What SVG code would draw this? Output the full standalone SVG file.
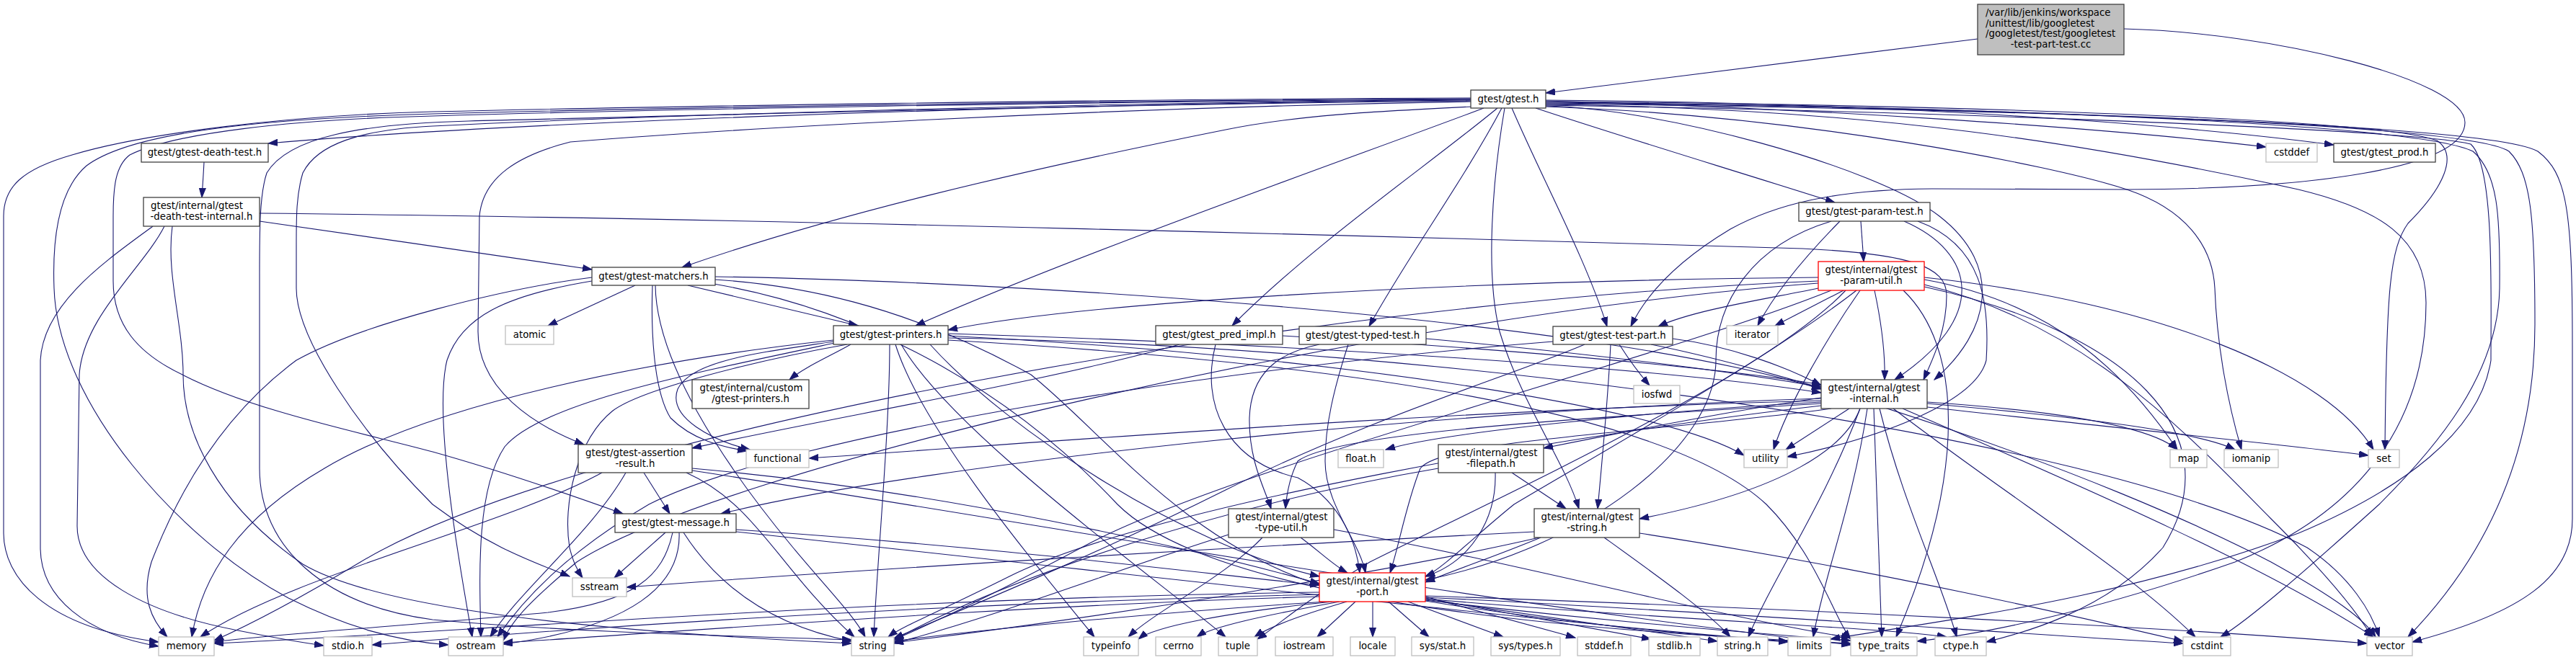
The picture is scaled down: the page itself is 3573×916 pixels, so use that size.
<svg xmlns="http://www.w3.org/2000/svg" width="3573" height="916" viewBox="0 0 3573 916">
<style>
.e{fill:none;stroke:#191970;stroke-width:1.1;marker-end:url(#a)}
.n{fill:#fff;stroke:#404040;stroke-width:1.3}
.l{fill:#fff;stroke:#bfbfbf;stroke-width:1.3}
.r{fill:#fff;stroke:#ff0000;stroke-width:1.3}
.root{fill:#bfbfbf;stroke:#404040;stroke-width:1.3}
text{font-family:"DejaVu Sans","Liberation Sans",sans-serif;font-size:13.3px;fill:#000;text-anchor:middle}
text.s{text-anchor:start}
</style>
<defs>
<marker id="a" markerWidth="14" markerHeight="10" refX="13" refY="5" orient="auto" markerUnits="userSpaceOnUse"><path d="M0,0.5 L13,5 L0,9.5 z" fill="#191970" stroke="#191970" stroke-width="1"/></marker>
</defs>
<rect width="3573" height="916" fill="#fff"/>
<g id="edges">
<path class="e" d="M2743,54 L2144,129"/>
<path class="e" d="M2946,40 C3150,45 3419,110 3419,170 C3419,235 3200,262 2950,263 L2680,262 C2540,263 2460,285 2400,318 C2330,360 2285,405 2262,453"/>
<path class="e" d="M2040,139 C1400,145 700,170 372,199"/>
<path class="e" d="M2042,148 C1900,155 1800,160 1700,180 C1400,240 1150,300 946,371"/>
<path class="e" d="M2058,150 C1900,210 1500,350 1270,452"/>
<path class="e" d="M2077,150 C1980,230 1820,340 1709,452"/>
<path class="e" d="M2083,150 C2030,250 1950,360 1899,453"/>
<path class="e" d="M2087,150 C2070,250 2060,380 2080,460 C2110,560 2170,640 2190,706"/>
<path class="e" d="M2097,150 C2140,250 2200,360 2229,453"/>
<path class="e" d="M2130,150 C2250,190 2400,235 2545,281"/>
<path class="e" d="M2144,147 C2300,150 2600,230 2690,300 C2780,370 2760,460 2683,527"/>
<path class="e" d="M2144,140 C2500,150 2900,175 3143,204"/>
<path class="e" d="M2144,139 C2600,142 3000,170 3237,201"/>
<path class="e" d="M2144,141 C2700,145 3300,165 3380,195 C3410,215 3390,260 3340,310 C3315,345 3310,400 3308,624"/>
<path class="e" d="M2144,142 C2700,147 3350,170 3430,210 C3465,240 3468,300 3467,400 C3465,520 3380,620 3300,700 C3200,790 3120,860 3080,884"/>
<path class="e" d="M2144,143 C2700,148 3420,170 3480,210 C3510,240 3516,300 3516,450 C3516,600 3470,750 3340,884"/>
<path class="e" d="M2144,144 C2700,150 3450,170 3520,210 C3560,240 3568,290 3568,480 L3568,720 C3568,800 3500,850 3346,891"/>
<path class="e" d="M2144,145 C2600,150 2900,200 3188,263 C3300,290 3365,330 3365,420 C3365,560 3300,700 3100,780 C2900,850 2750,880 2659,890"/>
<path class="e" d="M2144,146 C2700,155 3350,180 3427,200 C3460,230 3455,400 3455,500 C3440,600 3330,680 3188,740 C2950,830 2700,860 2539,887"/>
<path class="e" d="M2144,148 C2500,160 2850,230 2950,263 C3030,290 3069,340 3072,400 C3075,480 3090,560 3109,624"/>
<path class="e" d="M2040,136 C1500,138 900,148 600,155 C400,160 200,185 100,215 C30,235 5,260 5,300 L5,740 C5,800 60,870 220,891"/>
<path class="e" d="M2040,137 C1500,140 900,150 600,158 C350,165 180,185 120,230 C85,260 72,320 75,400 C80,560 250,750 400,830 C480,870 550,890 622,895"/>
<path class="e" d="M2040,138 C1500,141 900,152 600,161 C400,166 240,185 180,215 C160,230 157,260 157,300 L157,390 C157,450 190,490 253,520 C350,570 500,600 600,627 C700,655 800,690 864,713"/>
<path class="e" d="M2040,138 C1500,143 900,160 600,175 C500,180 440,200 420,240 C411,270 411,300 411,340 L411,400 C411,470 500,600 600,700 C680,760 740,780 790,800"/>
<path class="e" d="M2040,140 C1500,145 900,162 650,168 C500,172 400,190 370,240 C360,270 360,320 360,380 L360,650 C360,760 450,840 600,860 C800,878 1000,882 1181,888"/>
<path class="e" d="M2040,141 C1500,150 1000,180 791,197 C720,215 670,245 665,300 L663,460 C663,540 740,590 810,617"/>
<path class="e" d="M283,225 C282,245 281,258 280,274"/>
<path class="e" d="M360,296 C1000,302 2000,330 2500,345 C2650,352 2700,370 2700,410 C2700,460 2680,500 2668,527"/>
<path class="e" d="M360,307 C500,328 700,355 821,374"/>
<path class="e" d="M212,314 C150,360 60,420 56,500 L56,760 C56,830 120,880 220,897"/>
<path class="e" d="M228,314 C200,370 115,440 110,520 L107,730 C107,800 200,850 330,875 C380,885 420,892 449,896"/>
<path class="e" d="M239,314 C230,380 254,450 254,520 C254,600 300,700 420,783 C500,830 700,870 1181,893"/>
<path class="e" d="M881,396 L760,452"/>
<path class="e" d="M954,396 L1190,452"/>
<path class="e" d="M905,396 C903,450 905,540 930,580 C960,610 1000,620 1036,626"/>
<path class="e" d="M909,396 C910,500 1000,640 1100,760 C1150,820 1185,855 1200,884"/>
<path class="e" d="M821,385 C700,400 500,450 411,500 C330,560 260,650 210,780 C195,830 210,860 232,884"/>
<path class="e" d="M821,390 C700,410 640,440 620,500 C600,580 640,800 655,884"/>
<path class="e" d="M992,384 C1400,390 2200,440 2526,540"/>
<path class="e" d="M992,388 C1100,395 1250,420 1430,520 C1530,600 1640,750 1830,812"/>
<path class="e" d="M990,394 C1200,430 1400,540 1550,700 C1700,850 2300,880 2567,893"/>
<path class="e" d="M1180,478 C1150,495 1115,510 1095,527"/>
<path class="e" d="M1156,474 C1050,490 960,500 940,540 C925,580 990,612 1040,624"/>
<path class="e" d="M1175,478 C1050,500 890,540 850,570 C800,610 780,700 790,760 C795,780 800,790 808,802"/>
<path class="e" d="M1156,472 C900,500 600,560 450,650 C330,720 280,800 266,884"/>
<path class="e" d="M1158,476 C950,520 750,560 700,620 C660,680 665,800 667,884"/>
<path class="e" d="M1234,478 C1234,600 1215,800 1212,884"/>
<path class="e" d="M1242,478 C1280,600 1450,800 1518,884"/>
<path class="e" d="M1250,478 C1320,600 1600,800 1700,884"/>
<path class="e" d="M1315,472 C1800,500 2300,560 2450,700 C2520,770 2545,860 2567,887"/>
<path class="e" d="M1315,466 C1800,490 2300,560 2419,632"/>
<path class="e" d="M1315,469 C2000,480 2900,600 3200,760 C3260,800 3290,850 3300,884"/>
<path class="e" d="M1315,463 C1800,478 2300,510 2526,545"/>
<path class="e" d="M1290,478 C1400,600 1650,760 1830,800"/>
<path class="e" d="M835,656 C700,730 400,800 278,884"/>
<path class="e" d="M868,656 C820,740 720,820 680,884"/>
<path class="e" d="M893,656 L929,713"/>
<path class="e" d="M952,656 C1050,700 1080,790 1185,884"/>
<path class="e" d="M960,650 C1300,680 1650,760 1830,810"/>
<path class="e" d="M960,653 C1400,720 2000,830 2567,895"/>
<path class="e" d="M923,739 L852,802"/>
<path class="e" d="M933,739 C920,800 880,835 760,850 C550,870 380,880 297,891"/>
<path class="e" d="M942,739 C945,810 880,870 698,894"/>
<path class="e" d="M948,739 C1000,820 1080,870 1181,890"/>
<path class="e" d="M1021,735 C1400,760 1700,800 1830,812"/>
<path class="e" d="M1021,738 C1600,800 2200,870 2480,890"/>
<path class="e" d="M2526,558 C2300,570 2000,600 1922,624"/>
<path class="e" d="M2526,556 C2000,570 1500,610 1122,636"/>
<path class="e" d="M2526,553 C2000,570 1300,640 1000,713"/>
<path class="e" d="M2526,552 C2400,570 2250,600 2141,622"/>
<path class="e" d="M2580,567 C2560,620 2480,680 2274,720"/>
<path class="e" d="M2526,560 C2200,580 1850,600 1800,640 C1790,660 1785,680 1783,706"/>
<path class="e" d="M2540,567 C2300,600 2000,610 1970,650 C1950,700 1940,760 1928,795"/>
<path class="e" d="M2526,563 C2200,600 1600,700 1400,800 C1300,850 1250,870 1232,884"/>
<path class="e" d="M2565,567 L2477,624"/>
<path class="e" d="M2580,567 C2530,700 2460,800 2425,884"/>
<path class="e" d="M2590,567 C2570,700 2530,800 2515,884"/>
<path class="e" d="M2599,567 C2603,700 2608,800 2610,884"/>
<path class="e" d="M2607,567 C2640,700 2690,800 2714,884"/>
<path class="e" d="M2626,567 C2800,700 2950,790 3045,884"/>
<path class="e" d="M2639,567 C2900,680 3150,790 3292,884"/>
<path class="e" d="M2673,558 C2850,570 2980,590 3020,624"/>
<path class="e" d="M2673,560 C2900,580 3050,600 3100,624"/>
<path class="e" d="M2673,565 C2900,590 3150,615 3285,632"/>
<path class="e" d="M2581,307 L2585,363"/>
<path class="e" d="M2552,307 C2500,360 2460,410 2438,452"/>
<path class="e" d="M2641,307 C2740,350 2760,440 2628,527"/>
<path class="e" d="M2660,307 C2750,340 2760,420 2755,500 C2740,560 2600,610 2479,634"/>
<path class="e" d="M2540,307 C2430,340 2380,420 2380,500 C2380,620 2200,760 1977,805"/>
<path class="e" d="M2557,403 L2462,452"/>
<path class="e" d="M2580,403 C2540,460 2480,560 2460,624"/>
<path class="e" d="M2600,403 C2610,450 2615,490 2614,527"/>
<path class="e" d="M2522,385 C2000,390 1500,420 1315,458"/>
<path class="e" d="M2522,400 C2450,415 2350,430 2300,453"/>
<path class="e" d="M2522,390 C1800,420 800,600 500,780 C400,840 340,870 297,889"/>
<path class="e" d="M2522,393 C1900,440 1000,650 800,780 C740,830 710,860 698,889"/>
<path class="e" d="M2540,403 C2300,500 1700,650 1500,760 C1350,840 1280,870 1240,888"/>
<path class="e" d="M2560,403 C2450,520 2100,680 1900,780 C1800,840 1770,870 1744,887"/>
<path class="e" d="M2575,403 C2450,500 2200,640 2100,700 C2050,740 2000,790 1977,800"/>
<path class="e" d="M2669,388 C2850,420 2950,520 3020,624"/>
<path class="e" d="M2669,385 C3000,420 3230,520 3292,624"/>
<path class="e" d="M2669,395 C2900,450 3050,620 3150,720 C3230,800 3270,850 3290,884"/>
<path class="e" d="M2640,403 C2720,480 2730,650 2630,884"/>
<path class="e" d="M2669,398 C2950,460 3100,600 3000,760 C2920,850 2800,880 2755,891"/>
<path class="e" d="M2320,470 C2400,480 2480,510 2526,535"/>
<path class="e" d="M2234,478 C2230,560 2222,640 2216,706"/>
<path class="e" d="M2246,478 C2260,500 2275,520 2288,535"/>
<path class="e" d="M2198,478 C2100,520 1900,580 1700,680 C1500,780 1300,860 1240,886"/>
<path class="e" d="M2154,474 C1700,510 1100,600 900,700 C780,770 720,840 690,884"/>
<path class="e" d="M2290,478 C2500,520 2900,650 3150,780 C3240,830 3280,860 3295,884"/>
<path class="e" d="M1870,478 C1850,540 1838,590 1838,640 C1838,700 1885,750 1894,795"/>
<path class="e" d="M1830,478 C1770,490 1735,520 1733,580 C1732,640 1755,680 1763,706"/>
<path class="e" d="M1978,470 C2200,490 2400,515 2526,537"/>
<path class="e" d="M1636,478 C1450,530 1150,580 960,622"/>
<path class="e" d="M1686,478 C1665,560 1700,640 1800,663 C1850,690 1880,740 1886,795"/>
<path class="e" d="M1779,466 C2100,485 2400,512 2526,534"/>
<path class="e" d="M1995,650 C1700,700 1400,800 1240,888"/>
<path class="e" d="M2097,656 L2172,706"/>
<path class="e" d="M2074,656 C2076,720 2040,780 1977,800"/>
<path class="e" d="M2128,738 C1700,760 1200,790 869,815"/>
<path class="e" d="M2137,746 C2080,770 2020,790 1977,808"/>
<path class="e" d="M2135,746 C1900,800 1500,860 1240,892"/>
<path class="e" d="M2225,746 C2300,800 2370,850 2400,884"/>
<path class="e" d="M2274,740 C2600,790 2900,860 3028,890"/>
<path class="e" d="M1751,746 C1700,800 1600,850 1565,884"/>
<path class="e" d="M1704,742 C1550,790 1400,850 1240,893"/>
<path class="e" d="M1804,746 C1830,765 1850,785 1869,795"/>
<path class="e" d="M1850,735 C2100,780 2400,860 2567,885"/>
<path class="e" d="M1880,835 L1827,884"/>
<path class="e" d="M1904,835 L1904,884"/>
<path class="e" d="M1926,835 L1982,884"/>
<path class="e" d="M1953,835 L2085,884"/>
<path class="e" d="M1977,828 L2185,885"/>
<path class="e" d="M1977,830 L2290,887"/>
<path class="e" d="M1977,832 L2382,890"/>
<path class="e" d="M1977,834 C2200,870 2400,885 2480,891"/>
<path class="e" d="M1977,833 C2250,865 2450,880 2567,889"/>
<path class="e" d="M1977,831 C2300,860 2600,870 2700,884"/>
<path class="e" d="M1977,829 C2400,850 2800,880 3028,893"/>
<path class="e" d="M1977,827 C2500,845 3000,870 3283,893"/>
<path class="e" d="M1830,822 C1200,830 600,880 297,893"/>
<path class="e" d="M1830,825 C1200,840 700,880 516,895"/>
<path class="e" d="M1830,828 C1400,840 900,880 698,892"/>
<path class="e" d="M1840,835 C1600,850 1350,875 1240,890"/>
<path class="e" d="M1848,835 C1700,850 1600,870 1579,887"/>
<path class="e" d="M1858,835 C1750,855 1680,870 1660,884"/>
<path class="e" d="M1868,835 C1800,855 1760,870 1740,884"/>
</g>
<g id="n_src"><rect class="root" x="2743" y="6" width="203" height="70"/><text class="s" x="2754" y="22">/var/lib/jenkins/workspace</text><text class="s" x="2754" y="36.5">/unittest/lib/googletest</text><text class="s" x="2754" y="51">/googletest/test/googletest</text><text x="2844.5" y="65.5">-test-part-test.cc</text></g>
<g id="n_gtest"><rect class="n" x="2040" y="125" width="104" height="25"/><text x="2092" y="142">gtest/gtest.h</text></g>
<g id="n_deathtest"><rect class="n" x="196" y="199" width="176" height="26"/><text x="284" y="216">gtest/gtest-death-test.h</text></g>
<g id="n_deathint"><rect class="n" x="199" y="274" width="161" height="40"/><text class="s" x="209" y="290">gtest/internal/gtest</text><text x="279.5" y="304.5">-death-test-internal.h</text></g>
<g id="n_matchers"><rect class="n" x="821" y="371" width="171" height="25"/><text x="906.5" y="388">gtest/gtest-matchers.h</text></g>
<g id="n_atomic"><rect class="l" x="701" y="452" width="67" height="26"/><text x="734.5" y="469">atomic</text></g>
<g id="n_printers"><rect class="n" x="1156" y="452" width="159" height="26"/><text x="1235.5" y="469">gtest/gtest-printers.h</text></g>
<g id="n_pred"><rect class="n" x="1603" y="452" width="176" height="26"/><text x="1691" y="469">gtest/gtest_pred_impl.h</text></g>
<g id="n_typed"><rect class="n" x="1802" y="453" width="176" height="25"/><text x="1890" y="470">gtest/gtest-typed-test.h</text></g>
<g id="n_testpart"><rect class="n" x="2154" y="453" width="166" height="25"/><text x="2237" y="470">gtest/gtest-test-part.h</text></g>
<g id="n_iterator"><rect class="l" x="2395" y="452" width="71" height="26"/><text x="2430.5" y="469">iterator</text></g>
<g id="n_custom"><rect class="n" x="960" y="527" width="162" height="40"/><text class="s" x="970.5" y="543">gtest/internal/custom</text><text x="1041" y="557.5">/gtest-printers.h</text></g>
<g id="n_iosfwd"><rect class="l" x="2266" y="535" width="64" height="25"/><text x="2298" y="552">iosfwd</text></g>
<g id="n_internal"><rect class="n" x="2526" y="527" width="147" height="40"/><text class="s" x="2535.5" y="543">gtest/internal/gtest</text><text x="2599.5" y="557.5">-internal.h</text></g>
<g id="n_assertion"><rect class="n" x="802" y="617" width="158" height="39"/><text class="s" x="812" y="633">gtest/gtest-assertion</text><text x="881" y="647.5">-result.h</text></g>
<g id="n_functional"><rect class="l" x="1035" y="624" width="87" height="25"/><text x="1078.5" y="641">functional</text></g>
<g id="n_float"><rect class="l" x="1856" y="624" width="63" height="25"/><text x="1887.5" y="641">float.h</text></g>
<g id="n_filepath"><rect class="n" x="1995" y="617" width="146" height="39"/><text class="s" x="2004.5" y="633">gtest/internal/gtest</text><text x="2068" y="647.5">-filepath.h</text></g>
<g id="n_utility"><rect class="l" x="2419" y="624" width="60" height="25"/><text x="2449" y="641">utility</text></g>
<g id="n_map"><rect class="l" x="3010" y="624" width="51" height="25"/><text x="3035.5" y="641">map</text></g>
<g id="n_iomanip"><rect class="l" x="3085" y="624" width="75" height="25"/><text x="3122.5" y="641">iomanip</text></g>
<g id="n_set"><rect class="l" x="3285" y="624" width="43" height="25"/><text x="3306.5" y="641">set</text></g>
<g id="n_paramtest"><rect class="n" x="2495" y="281" width="182" height="26"/><text x="2586" y="298">gtest/gtest-param-test.h</text></g>
<g id="n_paramutil"><rect class="r" x="2522" y="363" width="147" height="40"/><text class="s" x="2531.5" y="379">gtest/internal/gtest</text><text x="2595.5" y="393.5">-param-util.h</text></g>
<g id="n_cstddef"><rect class="l" x="3143" y="199" width="71" height="26"/><text x="3178.5" y="216">cstddef</text></g>
<g id="n_prod"><rect class="n" x="3237" y="199" width="141" height="26"/><text x="3307.5" y="216">gtest/gtest_prod.h</text></g>
<g id="n_message"><rect class="n" x="853" y="713" width="168" height="26"/><text x="937" y="730">gtest/gtest-message.h</text></g>
<g id="n_typeutil"><rect class="n" x="1704" y="706" width="146" height="40"/><text class="s" x="1713.5" y="722">gtest/internal/gtest</text><text x="1777" y="736.5">-type-util.h</text></g>
<g id="n_gstring"><rect class="n" x="2128" y="706" width="146" height="40"/><text class="s" x="2137.5" y="722">gtest/internal/gtest</text><text x="2201" y="736.5">-string.h</text></g>
<g id="n_sstream"><rect class="l" x="794" y="802" width="75" height="26"/><text x="831.5" y="819">sstream</text></g>
<g id="n_port"><rect class="r" x="1830" y="795" width="147" height="40"/><text class="s" x="1839.5" y="811">gtest/internal/gtest</text><text x="1903.5" y="825.5">-port.h</text></g>
<g id="n_memory"><rect class="l" x="220" y="884" width="77" height="26"/><text x="258.5" y="901">memory</text></g>
<g id="n_stdio"><rect class="l" x="449" y="884" width="67" height="26"/><text x="482.5" y="901">stdio.h</text></g>
<g id="n_ostream"><rect class="l" x="622" y="884" width="76" height="26"/><text x="660" y="901">ostream</text></g>
<g id="n_string"><rect class="l" x="1181" y="884" width="59" height="26"/><text x="1210.5" y="901">string</text></g>
<g id="n_typeinfo"><rect class="l" x="1503" y="884" width="76" height="26"/><text x="1541" y="901">typeinfo</text></g>
<g id="n_cerrno"><rect class="l" x="1603" y="884" width="63" height="26"/><text x="1634.5" y="901">cerrno</text></g>
<g id="n_tuple"><rect class="l" x="1690" y="884" width="54" height="26"/><text x="1717" y="901">tuple</text></g>
<g id="n_iostream"><rect class="l" x="1769" y="884" width="80" height="26"/><text x="1809" y="901">iostream</text></g>
<g id="n_locale"><rect class="l" x="1873" y="884" width="62" height="26"/><text x="1904" y="901">locale</text></g>
<g id="n_sysstat"><rect class="l" x="1958" y="884" width="86" height="26"/><text x="2001" y="901">sys/stat.h</text></g>
<g id="n_systypes"><rect class="l" x="2068" y="884" width="96" height="26"/><text x="2116" y="901">sys/types.h</text></g>
<g id="n_stddef"><rect class="l" x="2188" y="884" width="74" height="26"/><text x="2225" y="901">stddef.h</text></g>
<g id="n_stdlib"><rect class="l" x="2287" y="884" width="71" height="26"/><text x="2322.5" y="901">stdlib.h</text></g>
<g id="n_stringh"><rect class="l" x="2382" y="884" width="70" height="26"/><text x="2417" y="901">string.h</text></g>
<g id="n_limits"><rect class="l" x="2480" y="884" width="59" height="26"/><text x="2509.5" y="901">limits</text></g>
<g id="n_typetraits"><rect class="l" x="2567" y="884" width="92" height="26"/><text x="2613" y="901">type_traits</text></g>
<g id="n_ctype"><rect class="l" x="2684" y="884" width="71" height="26"/><text x="2719.5" y="901">ctype.h</text></g>
<g id="n_cstdint"><rect class="l" x="3028" y="884" width="66" height="26"/><text x="3061" y="901">cstdint</text></g>
<g id="n_vector"><rect class="l" x="3283" y="884" width="63" height="26"/><text x="3314.5" y="901">vector</text></g>
</svg>
